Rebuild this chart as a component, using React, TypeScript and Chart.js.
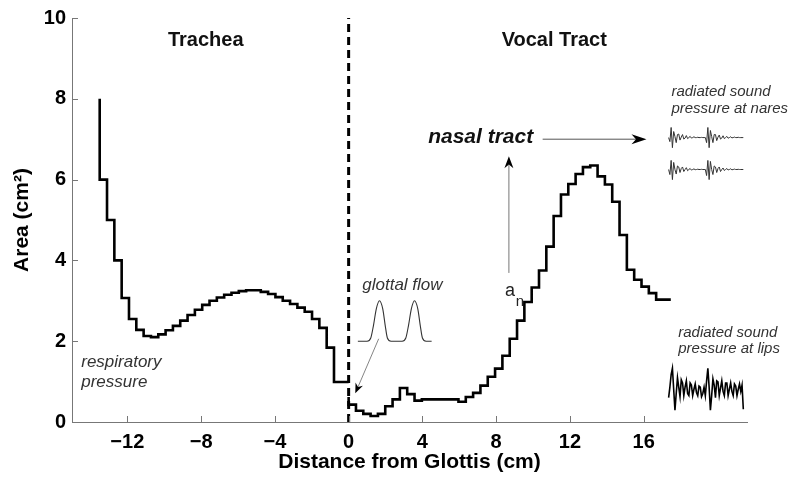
import React, { useEffect, useRef } from 'react';
import { Chart, registerables } from 'chart.js';

Chart.register(...registerables);

// ---- data ----
const SECTION_CM = 0.397;
const tracheaArea = [
  8.0, 6.0, 5.0, 4.0, 3.07, 2.55, 2.28, 2.13, 2.1, 2.17, 2.27, 2.38, 2.51, 2.65,
  2.78, 2.9, 3.0, 3.08, 3.15, 3.2, 3.24, 3.26, 3.26, 3.22, 3.17, 3.09, 3.0, 2.92,
  2.83, 2.73, 2.55, 2.33, 1.84, 0.99,
];
const vocalTractArea = [
  0.62, 0.43, 0.28, 0.2, 0.15, 0.2, 0.39, 0.56, 0.84, 0.69, 0.53, 0.56, 0.56, 0.56,
  0.56, 0.56, 0.5, 0.62, 0.72, 0.9, 1.12, 1.32, 1.64, 2.06, 2.51, 2.97, 3.33, 3.75,
  4.34, 5.1, 5.63, 5.89, 6.14, 6.31, 6.35, 6.08, 5.88, 5.45, 4.63, 3.77, 3.52, 3.35,
  3.19, 3.03,
];
const xTicks = [-12, -8, -4, 0, 4, 8, 12, 16];
const yTicks = [0, 2, 4, 6, 8, 10];

const glottalFlowX = [0.5, 1.0, 1.2, 1.35, 1.5, 1.67, 1.85, 1.98, 2.1, 2.3, 2.9, 3.1, 3.25, 3.4, 3.57, 3.75, 3.88, 4.0, 4.2, 4.5];
const glottalFlowY = [2.0, 2.0, 2.08, 2.4, 2.8, 3.0, 2.8, 2.4, 2.08, 2.0, 2.0, 2.08, 2.4, 2.8, 3.0, 2.8, 2.4, 2.08, 2.0, 2.0];

const naresWave1 = [
  0.0, -0.4, 1.0, -1.0, 0.6, 0.1, -0.5, 0.3, 0.35, -0.25, 0.05, 0.3, -0.15, -0.05,
  0.2, -0.1, 0.0, 0.12, -0.05, 0.0, 0.08, 0.0, 0.0, 0.03, 0.0, 0.0, 0.02, 0.0, 0.0,
  0.0, -0.5, 1.0, -1.0, 0.7, 0.1, -0.5, 0.3, 0.3, -0.3, 0.05, 0.25, -0.15, -0.05,
  0.18, -0.1, 0.0, 0.12, -0.06, 0.0, 0.08, -0.03, 0.0, 0.05, 0.0, 0.0, 0.03, 0.0, 0.0,
  0.0, 0.0,
];
const naresWave2 = [
  0.0, -0.5, 0.9, -1.0, 0.7, 0.0, -0.45, 0.35, 0.25, -0.3, 0.1, 0.25, -0.2, 0.0,
  0.18, -0.12, 0.0, 0.1, -0.06, 0.0, 0.06, -0.02, 0.0, 0.03, 0.0, 0.0, 0.02, 0.0, 0.0,
  0.0, -0.6, 0.9, -1.0, 0.8, 0.0, -0.5, 0.35, 0.25, -0.3, 0.1, 0.25, -0.2, 0.0,
  0.15, -0.1, 0.0, 0.1, -0.05, 0.0, 0.07, -0.03, 0.0, 0.04, 0.0, 0.0, 0.02, 0.0, 0.0,
  0.0, 0.0,
];
const lipsWave = [
  -0.4, 0.1, 0.7, 1.0, 0.0, -1.0, -0.2, 0.55, 0.1, -0.35, 0.45, 0.3, -0.3, 0.1, 0.4,
  -0.2, -0.3, 0.3, 0.2, -0.3, 0.0, 0.25, -0.15, -0.3, 0.15, 0.1, -0.35, -0.2, 0.1,
  -0.3, 0.4, 1.0, 0.1, -1.0, -0.3, 0.5, 0.2, -0.4, 0.4, 0.35, -0.3, 0.05, 0.4, -0.1,
  -0.3, 0.3, 0.3, -0.3, 0.0, 0.3, -0.1, -0.3, 0.25, 0.15, -0.3, 0.0, 0.25, -0.1, 0.2,
  -0.95,
];

const FONT = "'Liberation Sans', Arial, Helvetica, sans-serif";

function stepPoints(values: number[], x0: number) {
  const pts = values.map((v, i) => ({ x: x0 + i * SECTION_CM, y: v }));
  pts.push({ x: x0 + values.length * SECTION_CM, y: values[values.length - 1] });
  return pts;
}

function wavePoints(samples: number[], xStart: number, xEnd: number, yCenter: number, amp: number) {
  const n = samples.length;
  return samples.map((s, i) => ({ x: xStart + ((xEnd - xStart) * i) / (n - 1), y: yCenter + amp * s }));
}

function drawArrow(ctx: CanvasRenderingContext2D, x1: number, y1: number, x2: number, y2: number,
  headLen: number, headW: number, lineColor: string, lineWidth: number) {
  const ang = Math.atan2(y2 - y1, x2 - x1);
  const cos = Math.cos(ang), sin = Math.sin(ang);
  const notch = headLen * 0.7;
  ctx.save();
  ctx.strokeStyle = lineColor;
  ctx.lineWidth = lineWidth;
  ctx.beginPath();
  ctx.moveTo(x1, y1);
  ctx.lineTo(x2 - cos * notch, y2 - sin * notch);
  ctx.stroke();
  const bx = x2 - cos * headLen, by = y2 - sin * headLen;
  const nx = x2 - cos * notch, ny = y2 - sin * notch;
  ctx.fillStyle = '#000';
  ctx.beginPath();
  ctx.moveTo(x2, y2);
  ctx.lineTo(bx - sin * headW / 2, by + cos * headW / 2);
  ctx.lineTo(nx, ny);
  ctx.lineTo(bx + sin * headW / 2, by - cos * headW / 2);
  ctx.closePath();
  ctx.fill();
  ctx.restore();
}

const tickPlugin = {
  id: 'inwardTicks',
  afterDraw(chart: any) {
    const ctx = chart.ctx;
    const xs = chart.scales.x, ys = chart.scales.y;
    ctx.save();
    ctx.strokeStyle = '#777';
    ctx.lineWidth = 1;
    xTicks.forEach((v) => {
      const px = Math.round(xs.getPixelForValue(v)) + 0.5;
      ctx.beginPath();
      ctx.moveTo(px, ys.bottom);
      ctx.lineTo(px, ys.bottom - 6);
      ctx.stroke();
    });
    yTicks.forEach((v) => {
      const py = Math.round(ys.getPixelForValue(v)) + 0.5;
      ctx.beginPath();
      ctx.moveTo(xs.left, py);
      ctx.lineTo(xs.left + 6, py);
      ctx.stroke();
    });
    ctx.restore();
  },
};

const annotationPlugin = {
  id: 'annotations',
  afterDatasetsDraw(chart: any) {
    const ctx: CanvasRenderingContext2D = chart.ctx;
    const xs = chart.scales.x, ys = chart.scales.y;
    const X = (v: number) => xs.getPixelForValue(v);
    const Y = (v: number) => ys.getPixelForValue(v);
    const text = (t: string, x: number, y: number, font: string, align: CanvasTextAlign, color: string) => {
      ctx.font = font;
      ctx.textAlign = align;
      ctx.textBaseline = 'alphabetic';
      ctx.fillStyle = color;
      ctx.fillText(t, X(x), Y(y));
    };
    ctx.save();
    text('Trachea', -7.75, 9.3, `bold 20px ${FONT}`, 'center', '#111');
    text('Vocal Tract', 11.15, 9.3, `bold 20px ${FONT}`, 'center', '#111');
    text('nasal tract', 4.31, 6.9, `italic bold 21px ${FONT}`, 'left', '#111');
    text('radiated sound', 17.5, 8.07, `italic 15px ${FONT}`, 'left', '#333');
    text('pressure at nares', 17.5, 7.66, `italic 15px ${FONT}`, 'left', '#333');
    text('radiated sound', 17.87, 2.1, `italic 15px ${FONT}`, 'left', '#333');
    text('pressure at lips', 17.87, 1.71, `italic 15px ${FONT}`, 'left', '#333');
    text('respiratory', -14.5, 1.36, `italic 17px ${FONT}`, 'left', '#333');
    text('pressure', -14.5, 0.87, `italic 17px ${FONT}`, 'left', '#333');
    text('glottal flow', 0.74, 3.27, `italic 17px ${FONT}`, 'left', '#333');
    text('a', 8.48, 3.13, `18px ${FONT}`, 'left', '#222');
    text('n', 9.06, 2.88, `15px ${FONT}`, 'left', '#222');

    drawArrow(ctx, X(1.63), Y(2.06), X(0.36), Y(0.71), 10, 8, '#666', 0.8);
    drawArrow(ctx, X(8.69), Y(3.69), X(8.69), Y(6.58), 12, 9, '#777', 1);
    drawArrow(ctx, X(10.52), Y(7.0), X(16.15), Y(7.0), 15, 10, '#555', 1);
    ctx.restore();
  },
};

export default function App() {
  const canvasRef = useRef<HTMLCanvasElement | null>(null);

  useEffect(() => {
    document.body.style.margin = '0';
    const canvas = canvasRef.current;
    if (!canvas) return;

    const trachea = stepPoints(tracheaArea, -tracheaArea.length * SECTION_CM);
    const vocal = stepPoints(vocalTractArea, 0);
    const glottal = glottalFlowX.map((x, i) => ({ x, y: glottalFlowY[i] }));
    const nares1 = wavePoints(naresWave1, 17.35, 21.4, 7.04, 0.25);
    const nares2 = wavePoints(naresWave2, 17.35, 21.4, 6.25, 0.25);
    const lips = wavePoints(lipsWave, 17.35, 21.4, 0.81, 0.52);

    const base = { pointRadius: 0, fill: false, tension: 0 };

    const chart = new Chart(canvas, {
      type: 'line',
      data: {
        datasets: [
          { ...base, label: 'glottis', data: [{ x: 0, y: 0 }, { x: 0, y: 10 }], borderColor: '#000', borderWidth: 3, borderDash: [8, 5] },
          { ...base, label: 'trachea', data: trachea, stepped: 'after', borderColor: '#000', borderWidth: 2.6 },
          { ...base, label: 'vocal tract', data: vocal, stepped: 'after', borderColor: '#000', borderWidth: 2.6 },
          { ...base, label: 'glottal flow', data: glottal, cubicInterpolationMode: 'monotone', borderColor: '#333', borderWidth: 1.1 },
          { ...base, label: 'nares 1', data: nares1, borderColor: '#333', borderWidth: 1 },
          { ...base, label: 'nares 2', data: nares2, borderColor: '#333', borderWidth: 1 },
          { ...base, label: 'lips', data: lips, borderColor: '#000', borderWidth: 1.6 },
        ] as any,
      },
      options: {
        animation: false,
        responsive: true,
        maintainAspectRatio: false,
        layout: { padding: { top: 16, right: 53, bottom: 0, left: 0 } },
        plugins: { legend: { display: false }, tooltip: { enabled: false } },
        scales: {
          x: {
            type: 'linear',
            min: -15,
            max: 21.6,
            afterBuildTicks: (s: any) => { s.ticks = xTicks.map((v) => ({ value: v })); },
            afterFit: (s: any) => { s.height = 62; },
            grid: { display: false, drawTicks: false },
            border: { display: true, color: '#777', width: 1 },
            ticks: {
              padding: 8,
              color: '#000',
              autoSkip: false,
              maxRotation: 0,
              font: { family: FONT, size: 20, weight: 'bold' },
              callback: (v: any) => (v < 0 ? '\u2212' + Math.abs(v) : String(v)),
            },
            title: {
              display: true,
              text: 'Distance from Glottis (cm)',
              color: '#000',
              font: { family: FONT, size: 21, weight: 'bold' },
              padding: { top: 0, bottom: 9 },
            },
          },
          y: {
            type: 'linear',
            min: 0,
            max: 10,
            afterBuildTicks: (s: any) => { s.ticks = yTicks.map((v) => ({ value: v })); },
            afterFit: (s: any) => { s.width = 72; },
            grid: { display: false, drawTicks: false },
            border: { display: true, color: '#777', width: 1 },
            ticks: {
              padding: 6,
              color: '#000',
              font: { family: FONT, size: 20, weight: 'bold' },
            },
            title: {
              display: true,
              text: 'Area (cm\u00B2)',
              color: '#000',
              font: { family: FONT, size: 21, weight: 'bold' },
              padding: { top: 10, bottom: 0 },
            },
          },
        },
      } as any,
      plugins: [tickPlugin, annotationPlugin],
    });

    return () => chart.destroy();
  }, []);

  return (
    <div style={{ width: 800, height: 484, position: 'relative', background: '#fff' }}>
      <canvas ref={canvasRef} />
    </div>
  );
}
